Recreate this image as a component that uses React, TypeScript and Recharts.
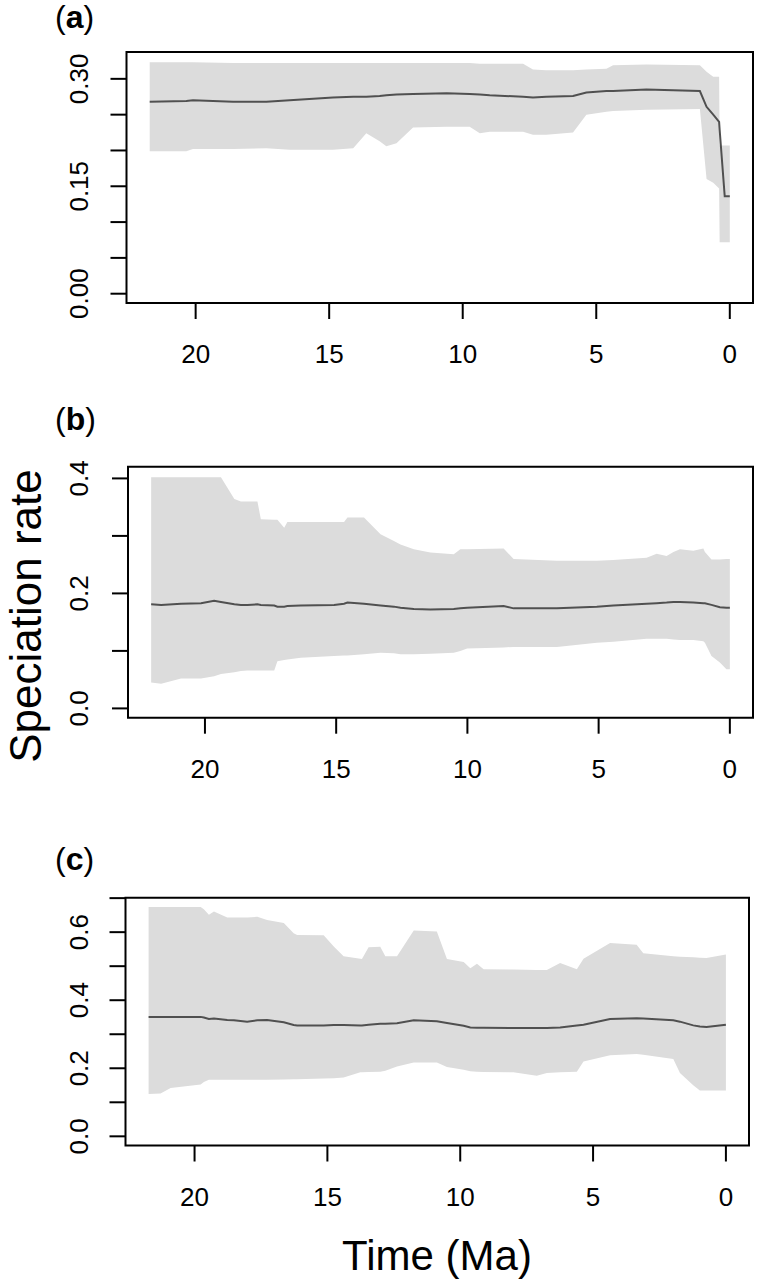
import { ComposedChart, Area, Line, XAxis, YAxis, ReferenceArea } from 'recharts'

const FONT = '"Liberation Sans", Arial, Helvetica, sans-serif'

// shared x ticks (time before present, Ma)
const xTicks = [0, 5, 10, 15, 20]

// panel (a)
const timeA = [21.72, 20.35, 20.1, 18.6, 17.35, 16.48, 14.86, 14.1, 13.61, 13.11, 12.86, 12.48, 11.86, 10.6, 9.74, 9.36, 8.99, 7.74, 7.37, 6.87, 5.87, 5.37, 4.62, 4.37, 3.12, 1.12, 0.87, 0.62, 0.4, 0.38, 0.19, 0]
const lowA = [0.199, 0.199, 0.202, 0.202, 0.203, 0.201, 0.201, 0.203, 0.224, 0.213, 0.206, 0.21, 0.232, 0.233, 0.233, 0.224, 0.226, 0.226, 0.222, 0.222, 0.225, 0.25, 0.254, 0.255, 0.257, 0.258, 0.16, 0.155, 0.147, 0.072, 0.072, 0.072]
const meanA = [0.268, 0.269, 0.27, 0.268, 0.268, 0.27, 0.274, 0.275, 0.275, 0.276, 0.277, 0.278, 0.279, 0.28, 0.279, 0.278, 0.277, 0.275, 0.274, 0.275, 0.276, 0.281, 0.283, 0.283, 0.285, 0.283, 0.261, 0.25, 0.24, 0.229, 0.136, 0.136]
const highA = [0.323, 0.323, 0.323, 0.322, 0.322, 0.322, 0.322, 0.322, 0.322, 0.322, 0.322, 0.322, 0.322, 0.322, 0.322, 0.321, 0.321, 0.321, 0.313, 0.312, 0.312, 0.313, 0.314, 0.319, 0.32, 0.319, 0.31, 0.303, 0.303, 0.207, 0.207, 0.207]
const yTicksA = [0, 0.05, 0.1, 0.15, 0.2, 0.25, 0.3]
const yLabelsA = ['0.00', '0.15', '0.30']

// panel (b)
const timeB = [22.05, 21.67, 20.91, 20.15, 19.65, 19.39, 18.88, 18.63, 18.38, 18.0, 17.87, 17.36, 17.24, 16.98, 16.86, 16.35, 15.08, 14.7, 14.57, 13.94, 13.31, 12.8, 12.55, 12.04, 11.41, 10.52, 10.27, 10.01, 8.62, 8.24, 6.59, 5.07, 4.44, 3.17, 2.79, 2.41, 2.15, 1.9, 1.39, 1.01, 0.95, 0.7, 0.38, 0.13, 0]
const lowB = [0.045, 0.043, 0.052, 0.052, 0.056, 0.06, 0.063, 0.065, 0.066, 0.066, 0.066, 0.066, 0.082, 0.084, 0.085, 0.088, 0.091, 0.092, 0.092, 0.094, 0.097, 0.096, 0.094, 0.094, 0.095, 0.097, 0.1, 0.104, 0.106, 0.107, 0.107, 0.114, 0.116, 0.121, 0.121, 0.121, 0.12, 0.119, 0.119, 0.117, 0.114, 0.091, 0.08, 0.068, 0.068]
const meanB = [0.181, 0.18, 0.182, 0.183, 0.187, 0.185, 0.181, 0.18, 0.18, 0.181, 0.18, 0.179, 0.177, 0.177, 0.178, 0.179, 0.18, 0.182, 0.184, 0.182, 0.179, 0.177, 0.175, 0.173, 0.172, 0.173, 0.174, 0.175, 0.178, 0.174, 0.174, 0.177, 0.179, 0.182, 0.183, 0.184, 0.185, 0.185, 0.184, 0.183, 0.183, 0.18, 0.176, 0.175, 0.175]
const highB = [0.402, 0.402, 0.402, 0.402, 0.402, 0.402, 0.364, 0.36, 0.36, 0.36, 0.329, 0.328, 0.328, 0.314, 0.324, 0.324, 0.324, 0.324, 0.332, 0.332, 0.303, 0.291, 0.285, 0.277, 0.271, 0.268, 0.277, 0.277, 0.278, 0.26, 0.257, 0.257, 0.258, 0.262, 0.269, 0.265, 0.272, 0.277, 0.274, 0.278, 0.272, 0.259, 0.259, 0.26, 0.26]
const yTicksB = [0, 0.1, 0.2, 0.3, 0.4]
const yLabelsB = ['0.0', '0.2', '0.4']

// panel (c)
const timeC = [21.73, 21.28, 20.9, 19.77, 19.65, 19.46, 19.27, 18.77, 18.52, 18.02, 17.64, 17.27, 16.64, 16.27, 16.14, 15.14, 14.76, 14.39, 13.76, 13.7, 13.45, 13.01, 12.82, 12.38, 11.75, 10.88, 10.5, 9.87, 9.62, 9.37, 9.12, 8.0, 7.12, 6.74, 6.24, 5.61, 5.36, 4.36, 3.36, 3.11, 1.98, 1.73, 1.23, 0.98, 0.73, 0]
const lowC = [0.1245, 0.126, 0.142, 0.152, 0.16, 0.1665, 0.1665, 0.1665, 0.1665, 0.166, 0.166, 0.166, 0.167, 0.168, 0.168, 0.17, 0.171, 0.173, 0.188, 0.188, 0.189, 0.19, 0.193, 0.205, 0.217, 0.217, 0.204, 0.196, 0.191, 0.19, 0.189, 0.188, 0.178, 0.186, 0.188, 0.19, 0.22, 0.238, 0.242, 0.24, 0.227, 0.186, 0.15, 0.135, 0.135, 0.135]
const meanC = [0.351, 0.351, 0.351, 0.351, 0.349, 0.345, 0.346, 0.342, 0.341, 0.337, 0.341, 0.342, 0.335, 0.327, 0.326, 0.326, 0.327, 0.327, 0.326, 0.326, 0.328, 0.331, 0.331, 0.332, 0.341, 0.338, 0.333, 0.325, 0.32, 0.319, 0.319, 0.318, 0.318, 0.318, 0.32, 0.326, 0.328, 0.345, 0.347, 0.346, 0.341, 0.337, 0.326, 0.323, 0.321, 0.328]
const highC = [0.674, 0.674, 0.674, 0.674, 0.667, 0.651, 0.661, 0.643, 0.643, 0.643, 0.645, 0.636, 0.627, 0.597, 0.592, 0.591, 0.558, 0.529, 0.522, 0.521, 0.556, 0.557, 0.529, 0.529, 0.605, 0.602, 0.521, 0.512, 0.494, 0.507, 0.491, 0.49, 0.489, 0.489, 0.509, 0.491, 0.522, 0.568, 0.563, 0.538, 0.529, 0.528, 0.526, 0.525, 0.524, 0.534]
const yTicksC = [0, 0.1, 0.2, 0.3, 0.4, 0.5, 0.6, 0.7]
const yLabelsC = ['0.0', '0.2', '0.4', '0.6']

interface Row {
  t: number
  band: [number, number]
  mean: number
}

interface Box {
  left: number
  top: number
  right: number
  bottom: number
}

const buildRows = (time: number[], low: number[], mean: number[], high: number[]): Row[] =>
  time.map((t, i) => ({ t, band: [low[i], high[i]], mean: mean[i] }))

// R-style padding: 4% on each side of the data range
const pad = (lo: number, hi: number): [number, number] => {
  const p = (hi - lo) * 0.04
  return [lo - p, hi + p]
}

interface PanelProps {
  rows: Row[]
  box: Box
  xMax: number
  yMax: number
  yTicks: number[]
  yLabels: string[]
}

function Panel({ rows, box, xMax, yMax, yTicks, yLabels }: PanelProps) {
  const xDomain = pad(0, xMax)
  const yDomain = pad(0, yMax)

  const renderXTick = (props: any) => (
    <text
      key={`x-${props.payload.value}`}
      x={props.x}
      y={box.bottom + 60}
      textAnchor="middle"
      fontSize={26}
      fontFamily={FONT}
      fill="#000"
    >
      {props.payload.value}
    </text>
  )

  const renderYTick = (props: any) => {
    const v = props.payload.value as number
    const label = yLabels.find((l) => Math.abs(Number(l) - v) < 1e-9)
    if (!label) return <g key={`y-${v}`} />
    return (
      <text
        key={`y-${v}`}
        transform={`translate(88, ${props.y}) rotate(-90)`}
        textAnchor="middle"
        fontSize={26}
        fontFamily={FONT}
        fill="#000"
      >
        {label}
      </text>
    )
  }

  return (
    <div style={{ position: 'absolute', left: 0, top: 0 }}>
      <ComposedChart
        width={760}
        height={1284}
        data={rows}
        margin={{ top: box.top, right: 760 - box.right, bottom: 0, left: 0 }}
      >
        <XAxis
          type="number"
          dataKey="t"
          domain={xDomain}
          reversed
          allowDataOverflow
          ticks={xTicks}
          interval={0}
          height={1284 - box.bottom}
          axisLine={false}
          stroke="#000"
          tickSize={16}
          tickLine={{ stroke: '#000', strokeWidth: 2 }}
          tick={renderXTick}
        />
        <YAxis
          type="number"
          domain={yDomain}
          allowDataOverflow
          ticks={yTicks}
          interval={0}
          width={box.left}
          axisLine={false}
          stroke="#000"
          tickSize={16}
          tickLine={{ stroke: '#000', strokeWidth: 2 }}
          tick={renderYTick}
        />
        <Area
          type="linear"
          dataKey="band"
          stroke="none"
          fill="#dcdcdc"
          fillOpacity={1}
          isAnimationActive={false}
        />
        <Line
          type="linear"
          dataKey="mean"
          stroke="#505050"
          strokeWidth={2}
          dot={false}
          isAnimationActive={false}
        />
        <ReferenceArea
          x1={xDomain[0]}
          x2={xDomain[1]}
          y1={yDomain[0]}
          y2={yDomain[1]}
          fill="none"
          stroke="#000"
          strokeWidth={2}
          ifOverflow="visible"
        />
      </ComposedChart>
    </div>
  )
}

export default function App() {
  const rowsA = buildRows(timeA, lowA, meanA, highA)
  const rowsB = buildRows(timeB, lowB, meanB, highB)
  const rowsC = buildRows(timeC, lowC, meanC, highC)

  return (
    <div style={{ position: 'absolute', left: 0, top: 0, width: 760, height: 1284, background: '#fff' }}>
      <Panel rows={rowsA} box={{ left: 126.5, top: 52, right: 753, bottom: 303 }} xMax={21.72} yMax={0.3245} yTicks={yTicksA} yLabels={yLabelsA} />
      <Panel rows={rowsB} box={{ left: 128, top: 466.7, right: 753, bottom: 717.7 }} xMax={22.05} yMax={0.4042} yTicks={yTicksB} yLabels={yLabelsB} />
      <Panel rows={rowsC} box={{ left: 125.5, top: 897.8, right: 749, bottom: 1145.5 }} xMax={21.73} yMax={0.674} yTicks={yTicksC} yLabels={yLabelsC} />
      <svg width={760} height={1284} style={{ position: 'absolute', left: 0, top: 0, pointerEvents: 'none' }}>
        <g fontFamily={FONT} fill="#000">
          <text x={55} y={28} fontSize={32}>(<tspan fontWeight="bold">a</tspan>)</text>
          <text x={55} y={430} fontSize={32}>(<tspan fontWeight="bold">b</tspan>)</text>
          <text x={55} y={870} fontSize={32}>(<tspan fontWeight="bold">c</tspan>)</text>
          <text transform="translate(41, 616) rotate(-90)" textAnchor="middle" fontSize={44}>Speciation rate</text>
          <text x={437} y={1270} textAnchor="middle" fontSize={42}>Time (Ma)</text>
        </g>
      </svg>
    </div>
  )
}
